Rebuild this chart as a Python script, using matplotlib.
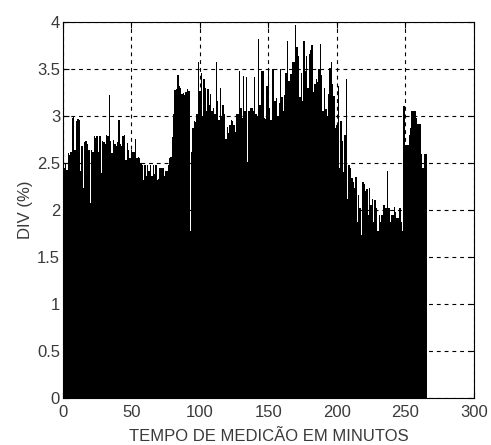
import numpy as np
import matplotlib
matplotlib.use("Agg")
import matplotlib.pyplot as plt

# DIV (%) per minute (minutes 1..265)
div_pct = [
    2.45, 2.50, 2.42, 2.60, 2.58, 2.62, 2.98, 2.99, 2.64, 2.95,
    2.97, 2.96, 2.41, 2.68, 2.23, 2.72, 2.73, 2.70, 2.64, 2.07,
    2.64, 2.62, 2.78, 2.76, 2.79, 2.62, 2.78, 2.39, 2.73, 2.72,
    2.70, 2.80, 2.78, 3.22, 2.73, 2.60, 2.74, 2.70, 2.68, 2.72,
    2.96, 2.70, 2.68, 2.79, 2.80, 2.53, 2.71, 2.64, 2.55, 2.64,
    2.62, 2.62, 2.75, 2.55, 2.56, 2.55, 2.50, 2.48, 2.32, 2.48,
    2.36, 2.48, 2.41, 2.48, 2.36, 2.48, 2.38, 2.48, 2.32, 2.33,
    2.45, 2.44, 2.44, 2.36, 2.41, 2.41, 2.48, 2.55, 2.56, 2.77,
    3.02, 3.27, 3.28, 3.43, 3.32, 3.30, 3.23, 3.24, 3.22, 3.25,
    3.28, 3.26, 1.77, 2.62, 2.87, 2.94, 2.93, 3.02, 3.57, 3.26,
    3.46, 3.00, 3.39, 3.30, 3.05, 3.28, 3.12, 3.23, 3.05, 3.08,
    3.02, 3.57, 3.16, 2.96, 3.30, 3.00, 3.12, 3.02, 2.75, 2.88,
    2.82, 2.90, 2.96, 2.95, 2.90, 2.83, 3.02, 3.02, 3.48, 3.08,
    2.98, 3.42, 3.05, 3.41, 2.51, 3.05, 3.08, 3.08, 3.05, 3.41,
    3.02, 3.00, 3.82, 3.12, 3.48, 3.48, 2.98, 2.97, 3.32, 3.51,
    3.08, 2.96, 3.50, 3.50, 3.16, 3.19, 3.00, 3.14, 3.50, 3.20,
    3.05, 3.22, 3.46, 3.80, 3.37, 3.44, 3.44, 3.57, 3.57, 3.97,
    3.73, 3.64, 3.20, 3.46, 3.16, 3.80, 3.48, 3.64, 3.30, 3.66,
    3.70, 3.75, 3.25, 3.34, 3.39, 3.36, 3.50, 3.76, 3.43, 3.05,
    3.30, 3.07, 3.00, 3.23, 3.51, 3.57, 3.34, 3.21, 2.87, 2.90,
    3.32, 2.44, 2.94, 2.73, 2.40, 2.80, 3.39, 2.12, 2.48, 2.45,
    2.34, 2.30, 2.23, 2.35, 1.87, 2.16, 2.02, 1.73, 2.30, 2.27,
    2.20, 2.22, 1.94, 2.23, 2.05, 2.12, 1.87, 2.10, 2.02, 1.77,
    1.94, 1.87, 1.94, 2.05, 2.05, 2.02, 2.41, 2.02, 1.87, 1.94,
    1.94, 2.03, 1.98, 1.91, 1.91, 2.02, 1.87, 1.77, 3.10, 2.69,
    2.69, 2.69, 2.80, 2.87, 3.05, 3.05, 3.05, 2.98, 2.91, 2.91,
    2.91, 2.59, 2.44, 2.59, 2.59,
]
minutes = np.arange(1, len(div_pct) + 1)

x_ticks = [0, 50, 100, 150, 200, 250, 300]
y_ticks = [0, 0.5, 1, 1.5, 2, 2.5, 3, 3.5, 4]
y_tick_labels = ["0", "0.5", "1", "1.5", "2", "2.5", "3", "3.5", "4"]

plt.rcParams["font.family"] = ["Liberation Sans", "DejaVu Sans"]

fig = plt.figure(figsize=(4.91, 4.45), dpi=100)
ax = fig.add_axes([0.128, 0.106, 0.837, 0.845])

ax.bar(minutes, div_pct, width=1.0, color="black", edgecolor="none")

ax.set_xlim(0, 300)
ax.set_ylim(0, 4)
ax.set_xticks(x_ticks)
ax.set_yticks(y_ticks)
ax.set_yticklabels(y_tick_labels)
ax.tick_params(direction="in", length=4, width=0.8, labelsize=12,
               colors="black", labelcolor="#3a3a3a")
ax.tick_params(axis="x", top=True, pad=5)
ax.tick_params(axis="y", right=True, pad=2)

ax.set_axisbelow(True)
ax.grid(True, color="black", linestyle=(0, (3.5, 3.5)), linewidth=0.8)
for s in ax.spines.values():
    s.set_linewidth(0.8)

ax.set_xlabel("TEMPO DE MEDICÃO EM MINUTOS", fontsize=12, color="#3a3a3a", labelpad=7)
ax.set_ylabel("DIV (%)", fontsize=12, color="#3a3a3a", labelpad=3)

plt.savefig("out.png", dpi=100)
